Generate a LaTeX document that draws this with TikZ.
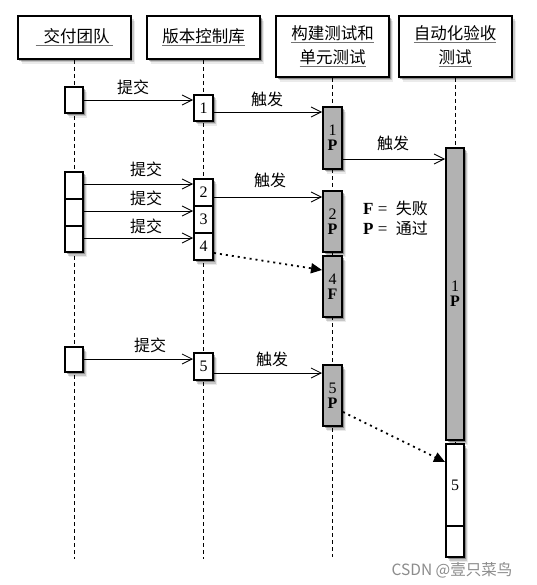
\documentclass[tikz,border=0pt]{standalone}
\usepackage{fontspec}
\setmainfont{Liberation Serif}
\newfontfamily\cjk{Noto Sans CJK SC}
\usetikzlibrary{arrows.meta,shadows}
\newcommand\hul[1]{{\color{black!55}\underline{\color{black}#1}}}
\tikzset{
  shadowed/.style={drop shadow={shadow xshift=1.5pt,shadow yshift=-2pt,opacity=.3,fill=black},
                   drop shadow={shadow xshift=3pt,shadow yshift=-3.5pt,opacity=.15,fill=black},
                   drop shadow={shadow xshift=4pt,shadow yshift=-5pt,opacity=.08,fill=black}},
  hdr/.style={draw, line width=2pt, fill=white, align=center, inner sep=0pt,
              font=\cjk\fontsize{16.5}{24}\selectfont, minimum width=113pt, shadowed},
  act/.style={draw, line width=2pt, fill=white, minimum width=18pt, inner sep=0pt,
              align=center, font=\fontsize{16}{15}\selectfont, shadowed},
  gact/.style={act, fill=black!30},
  life/.style={line width=0.7pt, dash pattern=on 4pt off 3pt},
  msg/.style={line width=0.7pt, -{Straight Barb[length=10pt,width=10pt,line width=0.8pt]}},
  dotmsg/.style={line width=1.8pt, dash pattern=on 2pt off 4pt, -{Triangle[length=11pt,width=10pt]}},
  lbl/.style={font=\cjk\fontsize{16}{16}\selectfont, inner sep=0pt},
  legend/.style={font=\fontsize{17}{17}\selectfont, inner sep=0pt, anchor=west}
}
\begin{document}
\begin{tikzpicture}[x=1pt,y=-1pt]
\fill[white] (0,0) rectangle (536,585);
\useasboundingbox (0,0) rectangle (536,585);

% headers
\node[hdr, minimum height=43pt] (h1) at (74,37.5) {\hul{\hspace{8pt}交付团队\hspace{3pt}}};
\node[hdr, minimum height=43pt] (h2) at (203.5,37.5) {\hul{版本控制库}};
\node[hdr, minimum height=61pt] (h3) at (332.5,46.5) {\hul{构建测试和}\\\hul{单元测试}};
\node[hdr, minimum height=61pt] (h4) at (455,46.5) {\hul{自动化验收}\\\hul{测试}};

% lifelines
\coordinate (e1) at (74,559);
\coordinate (e2) at (203.5,559);
\coordinate (e3) at (332.5,557);
\coordinate (e4) at (455,557);
\draw[life] (h1.south) -- (e1);
\draw[life] (h2.south) -- (e2);
\draw[life] (h3.south) -- (e3);
\draw[life] (h4.south) -- (e4);

% delivery team
\node[act, minimum height=26pt] (t1) at (74,100) {};
\node[act, minimum height=27pt] (t2) at (74,185.5) {};
\node[act, minimum height=27pt] (t3) at (74,212.5) {};
\node[act, minimum height=26pt] (t4) at (74,239) {};
\node[act, minimum height=25pt] (t5) at (74,359.5) {};

% version control
\node[act, minimum width=19pt, minimum height=26pt] (r1) at (203.5,108) {1};
\node[act, minimum width=19pt, minimum height=27pt] (r2) at (203.5,192.5) {2};
\node[act, minimum width=19pt, minimum height=27pt] (r3) at (203.5,219.5) {3};
\node[act, minimum width=19pt, minimum height=27pt] (r4) at (203.5,246.5) {4};
\node[act, minimum width=19pt, minimum height=27pt] (r5) at (203.5,366.5) {5};

% build & unit test
\node[gact, minimum width=19pt, minimum height=62pt] (b1) at (332.5,138) {1\\\textbf{P}};
\node[gact, minimum width=19pt, minimum height=61pt] (b2) at (332.5,221.5) {2\\\textbf{P}};
\node[gact, minimum width=19pt, minimum height=61pt] (b4) at (332.5,286.5) {4\\\textbf{F}};
\node[gact, minimum width=19pt, minimum height=61pt] (b5) at (332.5,395.5) {5\\\textbf{P}};

% acceptance
\node[gact, minimum height=292pt] (a1) at (455,294) {1\\\textbf{P}};
\node[act, minimum height=82pt] (a5) at (455,485) {5};
\node[act, minimum height=31pt] (a6) at (455,541.5) {};

% messages
\draw[msg] (t1.east) -- (t1.east -| r1.west);
\draw[msg] (r1.east |- 0,112) -- (b1.west |- 0,112);
\draw[msg] (b1.east |- 0,159) -- (a1.west |- 0,159);
\draw[msg] (t2.east |- 0,184) -- (r2.west |- 0,184);
\draw[msg] (t3.east |- 0,211) -- (r3.west |- 0,211);
\draw[msg] (t4.east |- 0,238) -- (r4.west |- 0,238);
\draw[msg] (r2.east |- 0,197) -- (b2.west |- 0,197);
\draw[msg] (t5.east |- 0,359) -- (r5.west |- 0,359);
\draw[msg] (r5.east |- 0,373) -- (b5.west |- 0,373);
\draw[dotmsg] (r4.east |- 0,253) -- (b4.west |- 0,270);
\draw[dotmsg] (b5.east |- 0,412) -- (a5.west |- 0,462);

% labels
\node[lbl] (l1) at (133,87) {提交};
\node[lbl] (l2) at (146,169) {提交};
\node[lbl] (l3) at (146,198) {提交};
\node[lbl] (l4) at (146,226) {提交};
\node[lbl] (l5) at (150,345) {提交};
\node[lbl] (k1) at (267,99) {触发};
\node[lbl] (k2) at (270,180) {触发};
\node[lbl] (k3) at (272,359) {触发};
\node[lbl] (k4) at (393,143) {触发};

% legend
\node[legend] (lf) at (363,208) {\textbf{F} = \ {\cjk\fontsize{16}{16}\selectfont 失败}};
\node[legend] (lp) at (363,228) {\textbf{P} = \ {\cjk\fontsize{16}{16}\selectfont 通过}};

% watermark
\node[font=\cjk\fontsize{15.5}{15.5}\selectfont, text=black!45, inner sep=0pt] (wm) at (452,570) {CSDN @壹只菜鸟};
\end{tikzpicture}
\end{document}
